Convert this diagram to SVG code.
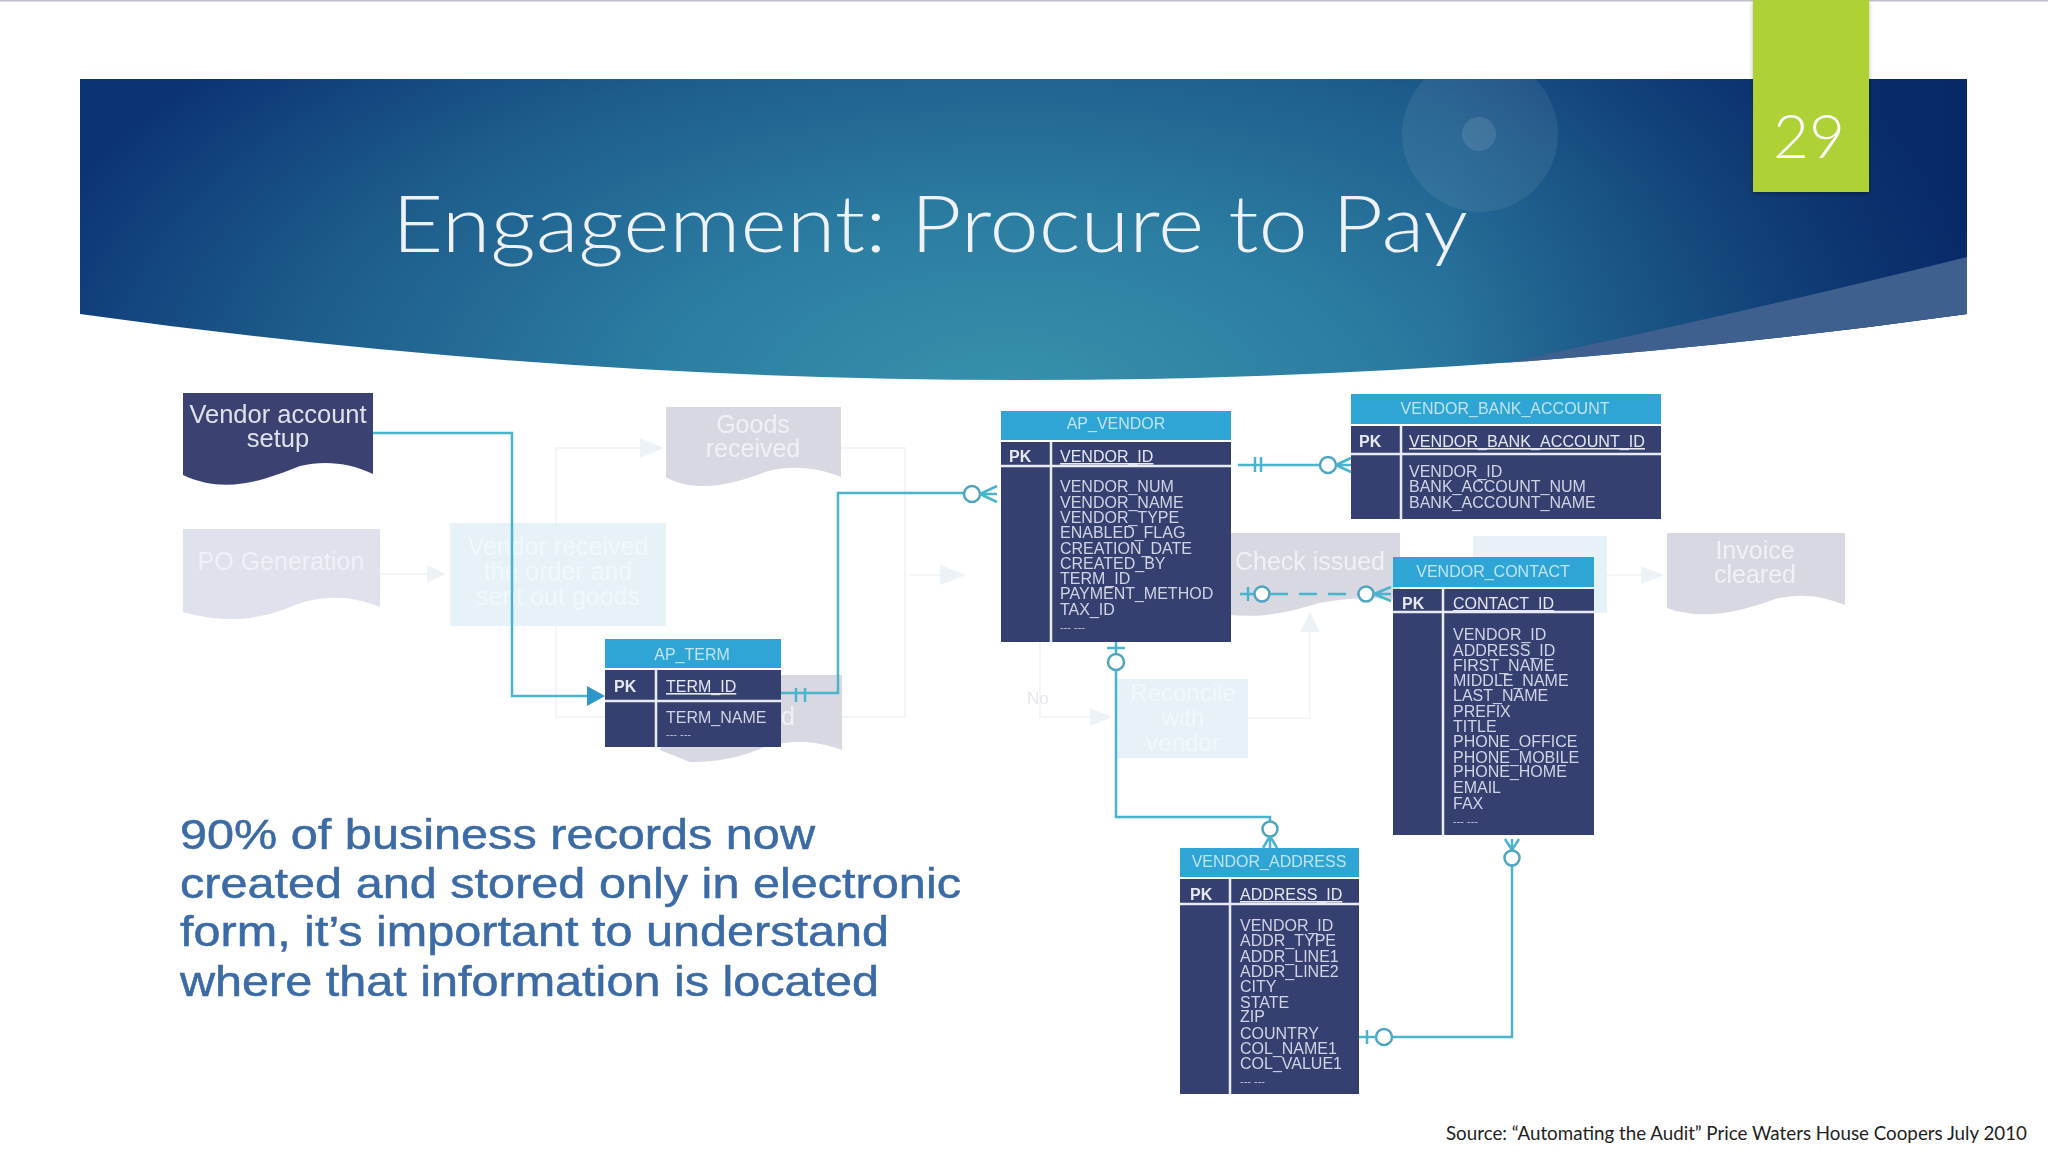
<svg xmlns="http://www.w3.org/2000/svg" width="2048" height="1152" viewBox="0 0 2048 1152">
<style>
text{font-family:"Liberation Sans",Arial,sans-serif}
.hdr{fill:#2fa5d5}
.tb{fill:#363f70}
.tt{font-size:16px;fill:#bfe4f3;text-anchor:middle}
.pk{font-size:16px;fill:#e6e8f2;font-weight:bold}
.id{font-size:16px;fill:#e6e8f2;text-decoration:underline}
.fld{font-size:16px;fill:#d0d4e4}
.dots{font-size:11px;fill:#c4c8dc}
.div{stroke:#e8ebf4;stroke-width:2.5;fill:none}
.docd{fill:#3b4371}
.docg{fill:#d8d8e2}
.docl{fill:#dfe1ec}
.boxl{fill:#e6f2f8}
.ft{font-size:25px;text-anchor:middle;fill:#f0f1f6}
.fb{font-size:25px;text-anchor:middle;fill:#f1f8fb}
.fl{fill:none;stroke:#f3f5f8;stroke-width:2}
.fa{fill:#edf2f6}
.c{fill:none;stroke:#4ab4cc;stroke-width:2.5}
.cd{fill:none;stroke:#4ab4cc;stroke-width:2.5;stroke-dasharray:18 11}
.o{fill:#fff;stroke:#4fa4be;stroke-width:2.5}
.msg{font-size:42px;fill:#3b6ba5;stroke:#3b6ba5;stroke-width:.5}
.gothic{font-family:"Lato","Noto Sans",sans-serif}
</style>
<defs>
<radialGradient id="bandFill" gradientUnits="userSpaceOnUse" cx="0" cy="0" r="1" gradientTransform="translate(1010 400) scale(1030 520)">
<stop offset="0" stop-color="#3792ab"/>
<stop offset=".35" stop-color="#2c7da2"/>
<stop offset=".7" stop-color="#1d5c8c"/>
<stop offset="1" stop-color="#0c3474"/>
</radialGradient>
<linearGradient id="rightDark" gradientUnits="userSpaceOnUse" x1="1450" y1="0" x2="1967" y2="0">
<stop offset="0" stop-color="#05225f" stop-opacity="0"/>
<stop offset="1" stop-color="#05225f" stop-opacity=".6"/>
</linearGradient>
<filter id="soft" x="-2%" y="-2%" width="104%" height="104%"><feGaussianBlur stdDeviation="0.5"/></filter>
<filter id="tabShadow" x="-10%" y="-10%" width="120%" height="120%"><feDropShadow dx="0" dy="2" stdDeviation="2" flood-color="#000" flood-opacity=".3"/></filter>
<clipPath id="bandClip"><path d="M80 79H1967V314Q1023 446 80 314Z"/></clipPath>
</defs>
<rect width="2048" height="1152" fill="#fff"/>
<rect width="2048" height="1.5" fill="#bcc0cc"/>

<g id="title-band">
<path d="M80 79H1967V314Q1023 446 80 314Z" fill="url(#bandFill)"/>
<g clip-path="url(#bandClip)">
<rect x="1450" y="79" width="517" height="300" fill="url(#rightDark)"/>
<path d="M1491 366Q1760 309 1967 257V340Z" fill="#3f5f8e"/>
<circle cx="1480" cy="134" r="78" fill="#fff" opacity=".07"/>
<circle cx="1479" cy="134" r="17" fill="#fff" opacity=".1"/>
</g>
<text x="392" y="252" class="gothic" font-size="78" font-weight="300" fill="#eef1f5" textLength="1076" lengthAdjust="spacingAndGlyphs">Engagement: Procure to Pay</text>
</g>
<g id="page-tab">
<rect x="1753" y="0" width="116" height="192" fill="#aed136" filter="url(#tabShadow)"/>
<text x="1809" y="158" class="gothic" font-size="62" font-weight="300" fill="#fff" text-anchor="middle">29</text>
</g>

<g filter="url(#soft)">
<g id="faded-connectors">
<path class="fl" d="M380 574H430"/><path class="fa" d="M427 565L446 574L427 583Z"/>
<path class="fl" d="M556 523V448H640"/><path class="fa" d="M640 438L664 448L640 458Z"/>
<path class="fl" d="M556 626V717H620"/>
<path class="fl" d="M841 448H905V717H842"/>
<path class="fl" d="M910 575H945"/><path class="fa" d="M940 565L966 575L940 585Z"/>
<path class="fl" d="M1040 642V717H1095"/><path class="fa" d="M1090 708L1112 717L1090 726Z"/>
<path class="fl" d="M1248 718H1310V630"/><path class="fa" d="M1300 632L1310 612L1320 632Z"/>
<path class="fl" d="M1607 575H1645"/><path class="fa" d="M1641 566L1664 575L1641 584Z"/>
</g>
<g id="po-generation"><path class="docl" d="M183 529H380V607C350 595 322 595 295 605C262 620 225 624 183 612Z"/><text class="ft" x="281" y="570">PO Generation</text></g>
<g id="vendor-received"><rect class="boxl" x="450" y="523" width="216" height="103"/><text class="fb" x="558" y="555">Vendor received</text><text class="fb" x="558" y="580">the order and</text><text class="fb" x="558" y="605">sent out goods</text></g>
<g id="goods-received"><path class="docg" d="M666 407H841V477C815 467 790 465 765 472C735 484 695 494 666 477Z"/><text class="ft" x="753" y="433">Goods</text><text class="ft" x="753" y="457">received</text></g>
<g id="invoice-received"><path class="docg" d="M700 675H842V750C815 740 790 740 765 747C745 755 725 762 690 762L660 750Z"/><text class="ft" x="788" y="725">d</text></g>
<g id="check-issued"><path class="docg" d="M1190 533H1400V600C1370 597 1345 598 1319 603C1290 612 1265 618 1230 615L1190 605Z"/><text class="ft" x="1310" y="570">Check issued</text></g>
<g id="reconcile"><rect class="boxl" x="1116" y="679" width="132" height="79"/><text class="fb" x="1183" y="701" style="font-size:24px">Reconcile</text><text class="fb" x="1183" y="726" style="font-size:24px">with</text><text class="fb" x="1183" y="751" style="font-size:24px">vendor</text></g>
<g id="no-label"><text x="1027" y="704" font-size="17" fill="#e4e7ec">No</text></g>
<g id="payment-box"><rect class="boxl" x="1473" y="536" width="134" height="77"/></g>
<g id="invoice-cleared"><path class="docg" d="M1667 533H1845V605C1820 595 1800 593 1775 599C1745 610 1705 622 1667 608Z"/><text class="ft" x="1755" y="559">Invoice</text><text class="ft" x="1755" y="583">cleared</text></g>

<g id="vendor-setup"><path class="docd" d="M183 393H373V474C350 463 325 460 300 466C265 480 225 495 183 475Z"/><text x="278" y="423" font-size="25.5" fill="#dfe2ea" text-anchor="middle">Vendor account</text><text x="278" y="447" font-size="25.5" fill="#dfe2ea" text-anchor="middle">setup</text></g>

<g id="ap-term">
<rect class="hdr" x="605" y="639" width="176" height="29"/><rect class="tb" x="605" y="670" width="176" height="77"/>
<path class="div" d="M605 701H781M656 670V747"/>
<text class="tt" x="692" y="660">AP_TERM</text><text class="pk" x="614" y="692">PK</text><text class="id" x="666" y="692">TERM_ID</text>
<text class="fld" x="666" y="723">TERM_NAME</text><text class="dots" x="666" y="738">--- ---</text>
</g>
<g id="ap-vendor">
<rect class="hdr" x="1001" y="411" width="230" height="29"/><rect class="tb" x="1001" y="442" width="230" height="200"/>
<path class="div" d="M1001 466H1231M1051 442V642"/>
<text class="tt" x="1116" y="429">AP_VENDOR</text><text class="pk" x="1009" y="462">PK</text><text class="id" x="1060" y="462">VENDOR_ID</text>
<text class="fld" x="1060" y="492">VENDOR_NUM</text><text class="fld" x="1060" y="508">VENDOR_NAME</text><text class="fld" x="1060" y="523">VENDOR_TYPE</text><text class="fld" x="1060" y="538">ENABLED_FLAG</text><text class="fld" x="1060" y="554">CREATION_DATE</text><text class="fld" x="1060" y="569">CREATED_BY</text><text class="fld" x="1060" y="584">TERM_ID</text><text class="fld" x="1060" y="599">PAYMENT_METHOD</text><text class="fld" x="1060" y="615">TAX_ID</text><text class="dots" x="1060" y="631">--- ---</text>
</g>
<g id="vendor-bank-account">
<rect class="hdr" x="1351" y="394" width="310" height="30"/><rect class="tb" x="1351" y="426" width="310" height="93"/>
<path class="div" d="M1351 454H1661M1401 426V519"/>
<text class="tt" x="1505" y="414">VENDOR_BANK_ACCOUNT</text><text class="pk" x="1359" y="447">PK</text><text class="id" x="1409" y="447" textLength="236" lengthAdjust="spacingAndGlyphs">VENDOR_BANK_ACCOUNT_ID</text>
<text class="fld" x="1409" y="477">VENDOR_ID</text><text class="fld" x="1409" y="492">BANK_ACCOUNT_NUM</text><text class="fld" x="1409" y="508">BANK_ACCOUNT_NAME</text>
</g>
<g id="vendor-contact">
<rect class="hdr" x="1393" y="557" width="201" height="30"/><rect class="tb" x="1393" y="589" width="201" height="246"/>
<path class="div" d="M1393 612H1594M1443 589V835"/>
<text class="tt" x="1493" y="577">VENDOR_CONTACT</text><text class="pk" x="1402" y="609">PK</text><text class="id" x="1453" y="609">CONTACT_ID</text>
<text class="fld" x="1453" y="640">VENDOR_ID</text><text class="fld" x="1453" y="656">ADDRESS_ID</text><text class="fld" x="1453" y="671">FIRST_NAME</text><text class="fld" x="1453" y="686">MIDDLE_NAME</text><text class="fld" x="1453" y="701">LAST_NAME</text><text class="fld" x="1453" y="717">PREFIX</text><text class="fld" x="1453" y="732">TITLE</text><text class="fld" x="1453" y="747">PHONE_OFFICE</text><text class="fld" x="1453" y="763">PHONE_MOBILE</text><text class="fld" x="1453" y="777">PHONE_HOME</text><text class="fld" x="1453" y="793">EMAIL</text><text class="fld" x="1453" y="809">FAX</text><text class="dots" x="1453" y="825">--- ---</text>
</g>
<g id="vendor-address">
<rect class="hdr" x="1180" y="848" width="179" height="29"/><rect class="tb" x="1180" y="879" width="179" height="215"/>
<path class="div" d="M1180 904H1359M1230 879V1094"/>
<text class="tt" x="1269" y="867">VENDOR_ADDRESS</text><text class="pk" x="1190" y="900">PK</text><text class="id" x="1240" y="900">ADDRESS_ID</text>
<text class="fld" x="1240" y="931">VENDOR_ID</text><text class="fld" x="1240" y="946">ADDR_TYPE</text><text class="fld" x="1240" y="962">ADDR_LINE1</text><text class="fld" x="1240" y="977">ADDR_LINE2</text><text class="fld" x="1240" y="992">CITY</text><text class="fld" x="1240" y="1008">STATE</text><text class="fld" x="1240" y="1022">ZIP</text><text class="fld" x="1240" y="1039">COUNTRY</text><text class="fld" x="1240" y="1054">COL_NAME1</text><text class="fld" x="1240" y="1069">COL_VALUE1</text><text class="dots" x="1240" y="1085">--- ---</text>
</g>

<g id="connectors">
<path class="c" d="M373 433H512V696H590"/><path d="M587 686L605 696L587 706Z" fill="#2f96c8"/>
<path class="c" d="M781 693H838V493H964"/><path class="c" d="M796 688V702M805 688V702"/>
<circle class="o" cx="972" cy="494" r="8"/><path class="c" d="M980 494H997M980 494L997 486M980 494L997 502"/>
<path class="c" d="M1238 465H1320"/><path class="c" d="M1255 457V472M1261 457V472"/>
<circle class="o" cx="1328" cy="465" r="8"/><path class="c" d="M1336 465H1351M1336 465L1351 458M1336 465L1351 472"/>
<path class="c" d="M1240 594H1254M1248 587V601"/><circle class="o" cx="1262" cy="594" r="7.5"/>
<path class="cd" d="M1270 594H1358"/><circle class="o" cx="1366" cy="594" r="7.5"/>
<path class="c" d="M1374 594H1391M1374 594L1391 587M1374 594L1391 601"/>
<path class="c" d="M1116 642V654M1107 648H1125"/><circle class="o" cx="1116" cy="662" r="8"/>
<path class="c" d="M1116 670V817H1270V821"/><circle class="o" cx="1270" cy="829" r="7.5"/>
<path class="c" d="M1270 836V848M1270 836L1263 848M1270 836L1277 848"/>
<path class="c" d="M1512 839V850M1505 839L1512 850M1519 839L1512 850"/><circle class="o" cx="1512" cy="858" r="7.5"/>
<path class="c" d="M1512 866V1037H1392"/><circle class="o" cx="1384" cy="1037" r="8"/>
<path class="c" d="M1376 1037H1359M1367 1030V1044"/>
</g>

<g id="message">
<text class="msg" x="180" y="849" textLength="635" lengthAdjust="spacingAndGlyphs">90% of business records now</text>
<text class="msg" x="180" y="898" textLength="781" lengthAdjust="spacingAndGlyphs">created and stored only in electronic</text>
<text class="msg" x="180" y="946" textLength="709" lengthAdjust="spacingAndGlyphs">form, it’s important to understand</text>
<text class="msg" x="180" y="996" textLength="699" lengthAdjust="spacingAndGlyphs">where that information is located</text>
</g>
</g>
<g id="source">
<text x="1446" y="1140" class="gothic" font-size="18.5" fill="#222" textLength="581" lengthAdjust="spacingAndGlyphs">Source: “Automating the Audit” Price Waters House Coopers July 2010</text>
</g>
</svg>
